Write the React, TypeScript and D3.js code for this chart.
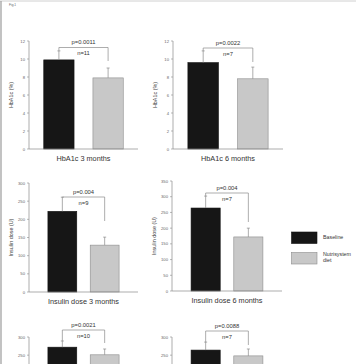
import React from "react";
import * as d3 from "d3";

const groups = ["Baseline", "Nutrisystem diet"];
const panelTitles = ["HbA1c 3 months", "HbA1c 6 months", "Insulin dose 3 months", "Insulin dose 6 months", "", ""];
const yLabels = ["HbA1c (%)", "HbA1c (%)", "Insulin dose (U)", "Insulin dose (U)", "", ""];
const yMax = [12, 12, 300, 350, 300, 300];
const yStep = [2, 2, 50, 50, 50, 50];
const baselineMean = [9.9, 9.6, 222, 264, 272, 264];
const baselineSD = [1.0, 1.3, 39, 38, 17, 22];
const dietMean = [7.9, 7.8, 129, 172, 251, 248];
const dietSD = [1.1, 1.3, 22, 28, 16, 19];
const pValues = ["p=0.0011", "p=0.0022", "p=0.004", "p=0.004", "p=0.0021", "p=0.0088"];
const nValues = ["n=11", "n=7", "n=9", "n=7", "n=10", "n=7"];

const W = 356;
const H = 364;

// layout (positions only)
const layouts = [
  { x0: 29, x1: 138, yTop: 41, yBot: 149, pi: 0.384, po: 0.3, bracketY: 47.5, legBottom: 61 },
  { x0: 173, x1: 283, yTop: 41, yBot: 149, pi: 0.384, po: 0.3, bracketY: 48, legBottom: 62 },
  { x0: 29, x1: 138, yTop: 183, yBot: 292, pi: 0.318, po: 0.447, bracketY: 197, legBottom: 221 },
  { x0: 172, x1: 282, yTop: 181, yBot: 291, pi: 0.318, po: 0.447, bracketY: 193, legBottom: 222 },
  { x0: 29, x1: 138, yTop: 337, yBot: 446, pi: 0.318, po: 0.447, bracketY: 330, legBottom: 343 },
  { x0: 172, x1: 282, yTop: 337, yBot: 446, pi: 0.318, po: 0.447, bracketY: 331, legBottom: 345 },
];

const FONT = "'Liberation Sans', Arial, sans-serif";
const BLACK = "#161616";
const GRAY = "#c8c8c8";
const LINE = "#8a8a8a";

function Panel({ i }: { i: number }) {
  const L = layouts[i];
  const y = d3.scaleLinear().domain([0, yMax[i]]).range([L.yBot, L.yTop]);
  const x = d3
    .scaleBand<string>()
    .domain(groups)
    .range([L.x0, L.x1])
    .paddingInner(L.pi)
    .paddingOuter(L.po);
  // the picture is a crop: only ticks that fall inside it are drawn
  const ticks = d3.range(0, yMax[i] + 1e-9, yStep[i]).filter((t) => y(t) + 3 < H);
  const means = [baselineMean[i], dietMean[i]];
  const sds = [baselineSD[i], dietSD[i]];
  const fills = [BLACK, GRAY];
  const strokes = ["#111", "#8c8c8c"];
  const bw = x.bandwidth();
  const c0 = (x(groups[0]) as number) + bw / 2;
  const c1 = (x(groups[1]) as number) + bw / 2;
  const mid = (c0 + c1) / 2;
  const errTop0 = y(means[0] + sds[0]);
  const yBotVis = Math.min(L.yBot, H + 2);
  return (
    <g>
      {groups.map((g, k) => (
        <rect
          key={g}
          x={x(g)}
          y={y(means[k])}
          width={bw}
          height={y(0) - y(means[k])}
          fill={fills[k]}
          stroke={strokes[k]}
          strokeWidth={0.6}
        />
      ))}
      {groups.map((g, k) => {
        const cx = (x(g) as number) + bw / 2;
        const t = y(means[k] + sds[k]);
        return (
          <g key={"e" + g} stroke={LINE} strokeWidth={0.7}>
            <line x1={cx} x2={cx} y1={y(means[k])} y2={t} />
            <line x1={cx - 1.5} x2={cx + 1.5} y1={t} y2={t} />
          </g>
        );
      })}
      <line x1={L.x0} x2={L.x0} y1={L.yTop} y2={yBotVis} stroke={LINE} strokeWidth={0.7} />
      {L.yBot < H && <line x1={L.x0} x2={L.x1} y1={L.yBot} y2={L.yBot} stroke={LINE} strokeWidth={0.7} />}
      {ticks.map((t) => (
        <g key={t}>
          <line x1={L.x0 - 2} x2={L.x0} y1={y(t)} y2={y(t)} stroke={LINE} strokeWidth={0.6} />
          <text x={L.x0 - 4} y={y(t) + 1.5} fontSize={4.2} textAnchor="end" fill="#666" fontFamily={FONT}>
            {t}
          </text>
        </g>
      ))}
      {yLabels[i] && (
        <text
          transform={`translate(${L.x0 - 16},${(L.yTop + L.yBot) / 2}) rotate(-90)`}
          fontSize={5.4}
          textAnchor="middle"
          fill="#444"
          fontFamily={FONT}
        >
          {yLabels[i]}
        </text>
      )}
      <polyline
        points={`${c0},${errTop0} ${c0},${L.bracketY} ${c1},${L.bracketY} ${c1},${L.legBottom}`}
        stroke={LINE}
        strokeWidth={0.7}
        fill="none"
      />
      <text x={mid} y={L.bracketY - 3.5} fontSize={5.8} textAnchor="middle" fill="#333" fontFamily={FONT}>
        {pValues[i]}
      </text>
      <text x={mid} y={L.bracketY + 7.5} fontSize={5.8} textAnchor="middle" fill="#333" fontFamily={FONT}>
        {nValues[i]}
      </text>
      {panelTitles[i] && (
        <text x={(L.x0 + L.x1) / 2} y={L.yBot + 11.5} fontSize={7.3} textAnchor="middle" fill="#333" fontFamily={FONT}>
          {panelTitles[i]}
        </text>
      )}
    </g>
  );
}

export default function App() {
  return (
    <svg width={W} height={H} style={{ position: "absolute", left: 0, top: 0, background: "#fff" }}>
      <rect x={0} y={0} width={W} height={H} fill="#fff" />
      <line x1={0} x2={W} y1={1} y2={1} stroke="#d0d0d0" strokeWidth={1} />
      <line x1={1} x2={1} y1={1} y2={H} stroke="#9a9a9a" strokeWidth={1.2} />
      <text x={9} y={5.5} fontSize={3.2} fill="#666" fontFamily={FONT}>
        Fig.1
      </text>
      {layouts.map((_, i) => (
        <Panel key={i} i={i} />
      ))}
      <g fontFamily={FONT} fontSize={5.3} fill="#333">
        <rect x={291.5} y={232} width={25.5} height={11.5} fill={BLACK} stroke="#111" strokeWidth={0.6} />
        <text x={323} y={239}>{groups[0]}</text>
        <rect x={291.5} y={252.5} width={25.5} height={11.5} fill={GRAY} stroke="#8c8c8c" strokeWidth={0.6} />
        <text x={323} y={256}>Nutrisystem</text>
        <text x={323} y={261.5}>diet</text>
      </g>
    </svg>
  );
}
